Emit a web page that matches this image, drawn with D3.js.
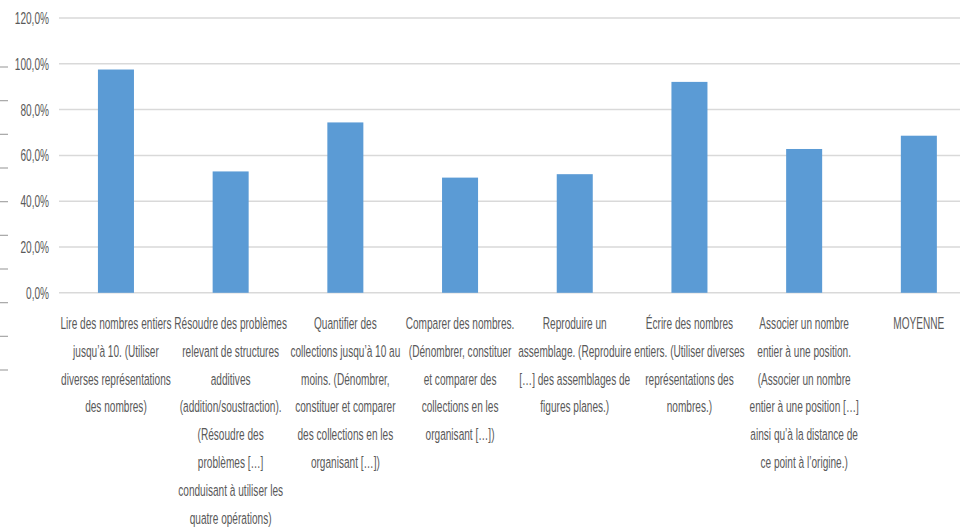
<!DOCTYPE html>
<html>
<head>
<meta charset="utf-8">
<script src="https://cdn.jsdelivr.net/npm/d3@7"></script>
<style>
  body { margin: 0; background: #fff; }
  text { font-family: "Liberation Sans", Arial, sans-serif; fill: #595959; }
</style>
</head>
<body>
<div class="chart"></div>
<script>
const labels = [
    ["Lire des nombres entiers", "jusqu’à 10. (Utiliser", "diverses représentations", "des nombres)"],
    ["Résoudre des problèmes", "relevant de structures", "additives", "(addition/soustraction).", "(Résoudre des", "problèmes […]", "conduisant à utiliser les", "quatre opérations)"],
    ["Quantifier des", "collections jusqu’à 10 au", "moins. (Dénombrer,", "constituer et comparer", "des collections en les", "organisant […])"],
    ["Comparer des nombres.", "(Dénombrer, constituer", "et comparer des", "collections en les", "organisant […])"],
    ["Reproduire un", "assemblage. (Reproduire", "[…] des assemblages de", "figures planes.)"],
    ["Écrire des nombres", "entiers. (Utiliser diverses", "représentations des", "nombres.)"],
    ["Associer un nombre", "entier à une position.", "(Associer un nombre", "entier à une position […]", "ainsi qu’à la distance de", "ce point à l’origine.)"],
    ["MOYENNE"]
];
const values = [97.5, 53.0, 74.4, 50.3, 51.8, 92.1, 62.8, 68.6];
const yTicks = [0, 20, 40, 60, 80, 100, 120];
const sideTicks = d3.range(10);

const width = 960, height = 529;

const svg = d3.select('.chart').append('svg')
    .attr('width', width)
    .attr('height', height);

// measure the font to squeeze it like the narrow original
const probe = svg.append('text').attr('font-size', 17).text(labels[0][0]);
const squeeze = 111 / probe.node().getComputedTextLength();
probe.remove();

const data = values.map((v, i) => ({key: i, value: v, lines: labels[i]}));

const xScale = d3.scaleBand()
    .domain(data.map(d => d.key))
    .range([58.6, 976.2])
    .paddingInner(0.686)
    .paddingOuter(0.343);
const yScale = d3.scaleLinear()
    .domain([0, 120])
    .range([292.8, 18]);
const sideScale = d3.scalePoint()
    .domain(sideTicks)
    .range([67, 370]);

// stray tick marks on the far left
svg.selectAll('.side')
    .data(sideTicks)
    .enter()
    .append('line')
    .attr('class', 'side')
    .attr('x1', 0)
    .attr('x2', 8)
    .attr('y1', d => sideScale(d))
    .attr('y2', d => sideScale(d))
    .attr('stroke', '#a6a6a6')
    .attr('stroke-width', 1.2);

// gridlines
svg.selectAll('.grid')
    .data(yTicks)
    .enter()
    .append('line')
    .attr('class', 'grid')
    .attr('x1', 59)
    .attr('x2', width)
    .attr('y1', d => yScale(d))
    .attr('y2', d => yScale(d))
    .attr('stroke', '#d9d9d9')
    .attr('stroke-width', 1.5);

svg.selectAll('.ylab')
    .data(yTicks)
    .enter()
    .append('text')
    .attr('class', 'ylab')
    .attr('transform', d => `translate(49, ${yScale(d)}) scale(${squeeze},1)`)
    .attr('dy', '0.35em')
    .attr('text-anchor', 'end')
    .attr('font-size', 17)
    .text(d => d3.format('.1f')(d).replace('.', ',') + '%');

svg.selectAll('.bar')
    .data(data)
    .enter()
    .append('rect')
    .attr('class', 'bar')
    .attr('x', d => xScale(d.key))
    .attr('width', xScale.bandwidth())
    .attr('y', d => yScale(d.value))
    .attr('height', d => yScale(0) - yScale(d.value))
    .attr('fill', '#5b9bd5');

const lab = svg.selectAll('.xlab')
    .data(data)
    .enter()
    .append('g')
    .attr('class', 'xlab')
    .attr('transform', d => `translate(${xScale(d.key) + xScale.bandwidth() / 2}, 329) scale(${squeeze},1)`);
lab.selectAll('text')
    .data(d => d.lines)
    .enter()
    .append('text')
    .attr('y', (d, i) => i * 27.8)
    .attr('text-anchor', 'middle')
    .attr('font-size', 17)
    .text(d => d);
</script>
</body>
</html>
